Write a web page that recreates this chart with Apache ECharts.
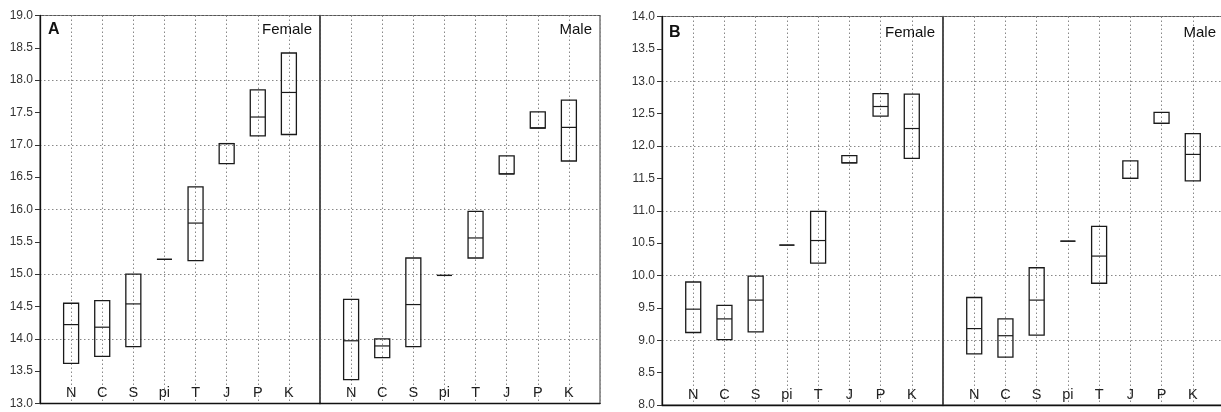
<!DOCTYPE html>
<html>
<head>
<meta charset="utf-8">
<script src="https://cdn.jsdelivr.net/npm/echarts@6/dist/echarts.min.js"></script>
<style>html,body{margin:0;padding:0;background:#fff;}#c{width:1221px;height:412px;}</style>
</head>
<body>
<div id="c"></div>
<script>
const cats = ['N', 'C', 'S', 'pi', 'T', 'J', 'P', 'K'];
const yTicksA = [13, 19];
const yTicksB = [8, 14];

const aFemaleMin = [13.62, 13.73, 13.88, 15.23, 15.21, 16.71, 17.14, 17.16];
const aFemaleMed = [14.22, 14.18, 14.54, 15.23, 15.79, 17.02, 17.43, 17.81];
const aFemaleMax = [14.55, 14.59, 15.00, 15.23, 16.35, 17.02, 17.85, 18.42];

const aMaleMin = [13.37, 13.71, 13.88, 14.98, 15.25, 16.55, 17.26, 16.75];
const aMaleMed = [13.97, 13.89, 14.53, 14.98, 15.56, 16.55, 17.26, 17.27];
const aMaleMax = [14.61, 14.00, 15.25, 14.98, 15.97, 16.83, 17.51, 17.69];

const bFemaleMin = [9.12, 9.01, 9.13, 10.47, 10.19, 11.74, 12.46, 11.81];
const bFemaleMed = [9.48, 9.33, 9.62, 10.47, 10.54, 11.74, 12.61, 12.27];
const bFemaleMax = [9.90, 9.54, 9.99, 10.47, 10.99, 11.85, 12.81, 12.80];

const bMaleMin = [8.79, 8.74, 9.08, 10.53, 9.88, 11.50, 12.35, 11.46];
const bMaleMed = [9.18, 9.07, 9.62, 10.53, 10.30, 11.50, 12.35, 11.87];
const bMaleMax = [9.66, 9.33, 10.12, 10.53, 10.76, 11.77, 12.52, 12.19];

function rows(mn, md, mx) {
  return cats.map((c, i) => [i + 1, mn[i], md[i], mx[i]]);
}

const grids = [
  { left: 40, top: 15.5, width: 280, height: 388 },
  { left: 320, top: 15.5, width: 280, height: 388 },
  { left: 662, top: 16.5, width: 281, height: 388.5 },
  { left: 943, top: 16.5, width: 281, height: 388.5 }
].map(g => Object.assign({ show: true, borderColor: '#555', borderWidth: 1.2, backgroundColor: 'transparent', containLabel: false, outerBoundsMode: 'none' }, g));

const dotted = { show: true, lineStyle: { color: '#888', type: [1.5, 2.5], width: 1 } };

const xAxes = grids.map((g, i) => ({
  type: 'value', gridIndex: i, min: 0, max: 9, interval: 1,
  axisLine: { show: true, onZero: false, lineStyle: { color: '#111', width: 1.3 } },
  axisTick: { show: false },
  splitLine: dotted,
  axisLabel: {
    inside: true, margin: 3, fontSize: 14.5, color: '#222', fontFamily: 'Liberation Sans, Arial, sans-serif',
    formatter: v => cats[v - 1] || ''
  }
}));

const yAxes = [];
grids.forEach((g, i) => {
  const ticks = i < 2 ? yTicksA : yTicksB;
  const labelled = (i % 2 === 0);
  yAxes.push({
    type: 'value', gridIndex: i, min: ticks[0], max: ticks[1], interval: 0.5,
    axisLine: { show: true, onZero: false, lineStyle: { color: labelled ? '#111' : '#444', width: labelled ? 1.3 : 1.5 } },
    axisTick: { show: labelled, inside: false, length: 5, lineStyle: { color: '#333' } },
    axisLabel: { show: labelled, inside: false, margin: 7, fontSize: 12, color: '#333', fontFamily: 'Liberation Sans, Arial, sans-serif', formatter: v => v.toFixed(1) },
    splitLine: { show: false }
  });
  yAxes.push({
    type: 'value', gridIndex: i, min: ticks[0], max: ticks[1], interval: 1,
    axisLine: { show: false }, axisTick: { show: false }, axisLabel: { show: false },
    splitLine: dotted
  });
});

function renderBox(params, api) {
  const x = api.value(0), lo = api.value(1), med = api.value(2), hi = api.value(3);
  const pLo = api.coord([x, lo]), pHi = api.coord([x, hi]), pMed = api.coord([x, med]);
  const w = 15;
  return {
    type: 'group', children: [
      { type: 'rect', shape: { x: pLo[0] - w / 2, y: pHi[1], width: w, height: pLo[1] - pHi[1] },
        style: { fill: 'none', stroke: '#1a1a1a', lineWidth: 1.3 } },
      { type: 'line', shape: { x1: pMed[0] - w / 2, y1: pMed[1], x2: pMed[0] + w / 2, y2: pMed[1] },
        style: { stroke: '#1a1a1a', lineWidth: 1.2 } }
    ]
  };
}

const datasets = [
  rows(aFemaleMin, aFemaleMed, aFemaleMax),
  rows(aMaleMin, aMaleMed, aMaleMax),
  rows(bFemaleMin, bFemaleMed, bFemaleMax),
  rows(bMaleMin, bMaleMed, bMaleMax)
];

const series = datasets.map((d, i) => ({
  type: 'custom', xAxisIndex: i, yAxisIndex: i * 2, data: d, renderItem: renderBox, z: 5, clip: false
}));

const txt = (x, y, t, align, bold) => ({
  type: 'text', x: x, y: y, z: 10,
  style: { text: t, fill: '#111', font: (bold ? 'bold 16px' : '15px') + ' Liberation Sans, Arial, sans-serif', textAlign: align, textVerticalAlign: 'top' }
});

const chart = echarts.init(document.getElementById('c'), null, { renderer: 'canvas' });
chart.setOption({
  animation: false,
  backgroundColor: '#fff',
  grid: grids,
  xAxis: xAxes,
  yAxis: yAxes,
  series: series,
  graphic: [
    txt(48, 22, 'A', 'left', true),
    txt(312, 22, 'Female', 'right', false),
    txt(592, 22, 'Male', 'right', false),
    txt(669, 25, 'B', 'left', true),
    txt(935, 25, 'Female', 'right', false),
    txt(1216, 25, 'Male', 'right', false)
  ]
});
</script>
</body>
</html>
